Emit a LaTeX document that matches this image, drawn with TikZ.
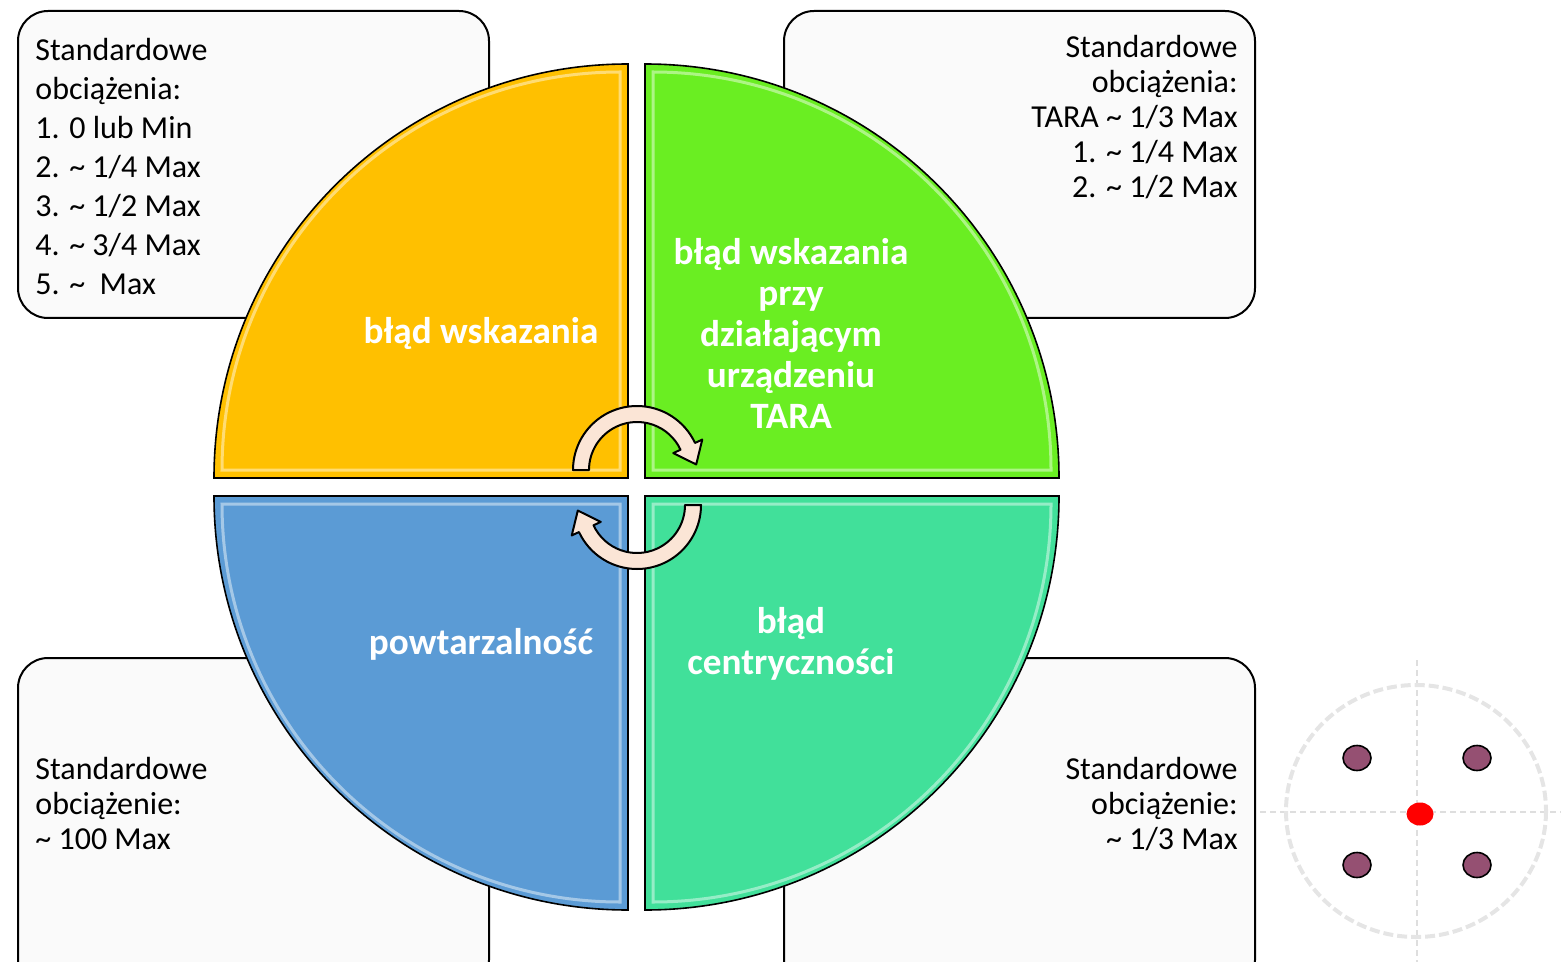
\documentclass[tikz,border=0pt]{standalone}
\usepackage{fontspec}
\setmainfont{Carlito}
\usetikzlibrary{calc}
\definecolor{yellowq}{HTML}{FFC000}
\definecolor{greenq}{HTML}{6AEE22}
\definecolor{blueq}{HTML}{5B9BD5}
\definecolor{tealq}{HTML}{41E09A}
\definecolor{turnfill}{HTML}{FBE5D6}
\definecolor{boxfill}{HTML}{FAFAFA}
\definecolor{boltfill}{HTML}{955072}
\newcommand{\tl}{\textasciitilde}

\begin{document}
\begin{tikzpicture}[
      x=0.5pt, y=-0.5pt,
      box/.style={draw=black, line width=1pt, fill=boxfill, rounded corners=15pt},
      quad/.style={draw=black, line width=0.8pt},
      bevel/.style={draw=white, draw opacity=0.45, line width=1.5pt},
      boxtext/.style={inner sep=0pt, font=\fontsize{16}{17.5}\selectfont},
      quadtext/.style={inner sep=0pt, text=white, align=center, font=\bfseries\fontsize{18.6}{20.5}\selectfont},
      turn/.style={draw=black, line width=1pt, fill=turnfill, line join=round},
      bolt/.style={draw=black, line width=0.8pt, fill=boltfill},
      guide/.style={draw=black!13, line width=0.6pt, dash pattern=on 3pt off 2pt},
      rim/.style={draw=black!10, line width=2pt, dash pattern=on 5pt off 2pt}
    ]
    \clip (0,0) rectangle (1561,962);
    % Draw the four load boxes.
    \draw[box] (18,11) rectangle (489,318);
    \draw[box] (784,11) rectangle (1255,318);
    \draw[box] (18,658) rectangle (489,990);
    \draw[box] (784,658) rectangle (1255,990);
    % Draw the quadrants.
    \draw[quad, fill=yellowq] (628,478) -- (214,478) arc[start angle=180, end angle=270, radius=414] -- cycle;
    \draw[quad, fill=greenq] (645,478) -- (645,64) arc[start angle=270, end angle=360, radius=414] -- cycle;
    \draw[quad, fill=blueq] (628,496) -- (628,910) arc[start angle=90, end angle=180, radius=414] -- cycle;
    \draw[quad, fill=tealq] (645,496) -- (1059,496) arc[start angle=0, end angle=90, radius=414] -- cycle;
    % Bevel highlights.
    \draw[bevel] (620,470) -- (222,470) arc[start angle=180, end angle=270, radius=398] -- cycle;
    \draw[bevel] (653,470) -- (653,72) arc[start angle=270, end angle=360, radius=398] -- cycle;
    \draw[bevel] (620,504) -- (620,902) arc[start angle=90, end angle=180, radius=398] -- cycle;
    \draw[bevel] (653,504) -- (1051,504) arc[start angle=0, end angle=90, radius=398] -- cycle;
    % Quadrant labels.
    \node[quadtext] (wsk) at (481,333) {błąd wskazania};
    \node[quadtext] (tara) at (791,333) {błąd wskazania\\przy\\działającym\\urządzeniu\\TARA};
    \node[quadtext] (powt) at (481,644) {powtarzalność};
    \node[quadtext] (centr) at (791,644) {błąd\\centryczności};
    % Box texts.
    \node[boxtext, anchor=north west, align=left, font=\fontsize{16}{19.5}\selectfont] (loadwsk) at (35,38)
      {Standardowe\\obciążenia:\\1. 0 lub Min\\2. \tl{} 1/4 Max\\3. \tl{} 1/2 Max\\4. \tl{} 3/4 Max\\5. \tl{}\ \ Max};
    \node[boxtext, anchor=north east, align=right] (loadtara) at (1238,35)
      {Standardowe\\obciążenia:\\TARA \tl{} 1/3 Max\\1. \tl{} 1/4 Max\\2. \tl{} 1/2 Max};
    \node[boxtext, anchor=north west, align=left] (loadpowt) at (35,757)
      {Standardowe\\obciążenie:\\\tl{} 100 Max};
    \node[boxtext, anchor=north east, align=right] (loadcentr) at (1238,757)
      {Standardowe\\obciążenie:\\\tl{} 1/3 Max};
    % Cycle arrows.
    \coordinate (topc) at (637,470);
    \coordinate (botc) at (637,505);
    \draw[turn] ($(topc)+(180:64)$) arc[start angle=180, end angle=335, radius=64]
      -- ($(topc)+(335:72)$) -- ($(topc)+(335:56)+(65:20)$) -- ($(topc)+(335:40)$)
      -- ($(topc)+(335:48)$) arc[start angle=335, end angle=180, radius=48] -- cycle;
    \draw[turn] ($(botc)+(0:64)$) arc[start angle=0, end angle=155, radius=64]
      -- ($(botc)+(155:72)$) -- ($(botc)+(155:56)+(245:20)$) -- ($(botc)+(155:40)$)
      -- ($(botc)+(155:48)$) arc[start angle=155, end angle=0, radius=48] -- cycle;
    % Eccentricity test plate.
    \draw[guide] (1260,812) -- (1561,812);
    \draw[guide] (1417,660) -- (1417,962);
    \draw[rim] (1416,811) ellipse[x radius=130, y radius=126];
    \draw[bolt] (1357,758) ellipse[x radius=14, y radius=12.5];
    \draw[bolt] (1477,758) ellipse[x radius=14, y radius=12.5];
    \draw[bolt] (1357,865) ellipse[x radius=14, y radius=12.5];
    \draw[bolt] (1477,865) ellipse[x radius=14, y radius=12.5];
    \fill[red] (1420,814) ellipse[x radius=13.5, y radius=11.5];
\end{tikzpicture}
\end{document}
